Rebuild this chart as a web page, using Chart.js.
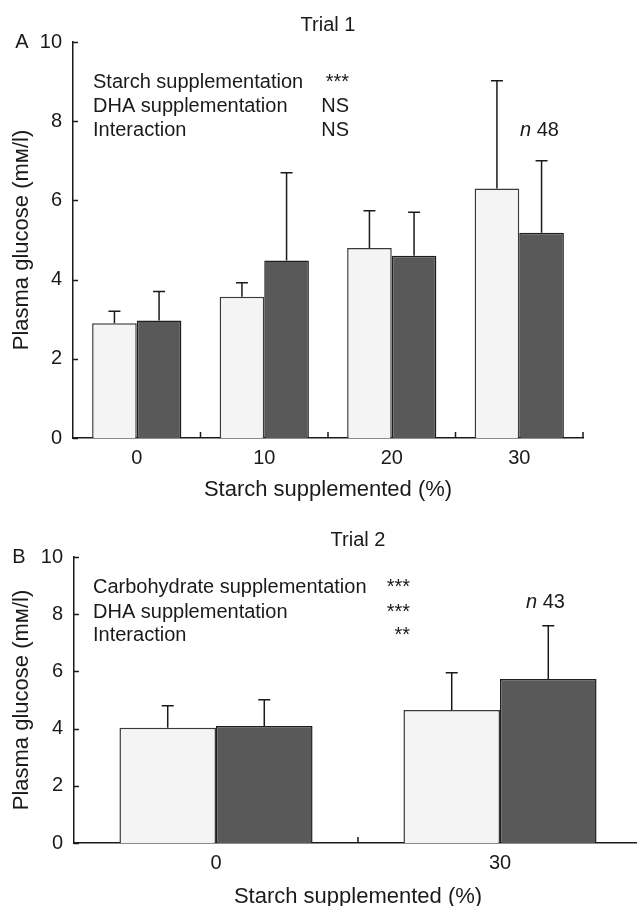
<!DOCTYPE html>
<html>
<head>
<meta charset="utf-8">
<script src="https://cdn.jsdelivr.net/npm/chart.js@4.4.0/dist/chart.umd.min.js"></script>
<style>
    html, body { margin: 0; padding: 0; background: #fff; width: 637px; height: 906px; overflow: hidden; }
    #panelA { position: absolute; left: 0; top: 0; }
    #panelB { position: absolute; left: 0; top: 515px; }
</style>
</head>
<body>
<canvas id="panelA" width="637" height="515"></canvas>
<canvas id="panelB" width="660" height="391"></canvas>
<script>
// trial 1 data (mean and SD, mM)
const trial1Labels = ['0', '10', '20', '30'];
const trial1Control = [2.9, 3.57, 4.8, 6.3];
const trial1ControlSd = [0.3, 0.35, 0.94, 2.72];
const trial1Dha = [2.97, 4.48, 4.6, 5.18];
const trial1DhaSd = [0.73, 2.22, 1.1, 1.82];

// trial 2 data
const trial2Labels = ['0', '30'];
const trial2Control = [4.03, 4.65];
const trial2ControlSd = [0.77, 1.3];
const trial2Dha = [4.09, 5.73];
const trial2DhaSd = [0.92, 1.87];

const yMin = 0;
const yMax = 10;
const yStep = 2;

const FONT = '"Liberation Sans", Arial, "DejaVu Sans", sans-serif';
const INK = '#1a1a1a';

Chart.defaults.font.family = FONT;
Chart.defaults.color = INK;

// SD whiskers, upward only
const errorBars = {
    id: 'errorBars',
    afterDatasetsDraw(chart, args, opts) {
        const ctx = chart.ctx;
        const yScale = chart.scales.y;
        chart.data.datasets.forEach(function (ds, di) {
            const meta = chart.getDatasetMeta(di);
            meta.data.forEach(function (bar, i) {
                const top = yScale.getPixelForValue(ds.data[i] + opts.sd[di][i]);
                ctx.save();
                ctx.strokeStyle = INK;
                ctx.lineWidth = 1.5;
                ctx.beginPath();
                ctx.moveTo(bar.x, bar.y);
                ctx.lineTo(bar.x, top);
                ctx.moveTo(bar.x - 6, top);
                ctx.lineTo(bar.x + 6, top);
                ctx.stroke();
                ctx.restore();
            });
        });
    }
};

// tick marks pointing into the plot
const innerTicks = {
    id: 'innerTicks',
    afterDraw(chart) {
        const ctx = chart.ctx;
        const x = chart.scales.x;
        const y = chart.scales.y;
        const area = chart.chartArea;
        ctx.save();
        ctx.strokeStyle = INK;
        ctx.lineWidth = 1.5;
        ctx.beginPath();
        y.ticks.forEach(function (t) {
            const py = Math.round(y.getPixelForValue(t.value)) + 0.5;
            ctx.moveTo(area.left, py);
            ctx.lineTo(area.left + 5, py);
        });
        const n = chart.data.labels.length;
        const w = (x.right - x.left) / n;
        for (let k = 1; k <= n; k++) {
            const px = x.left + k * w;
            ctx.moveTo(px, area.bottom);
            ctx.lineTo(px, area.bottom - 6);
        }
        ctx.stroke();
        ctx.restore();
    }
};

// titles, panel letter, statistics block
const panelText = {
    id: 'panelText',
    afterDraw(chart, args, o) {
        const ctx = chart.ctx;
        const area = chart.chartArea;
        const midX = (area.left + area.right) / 2;
        const midY = (area.top + area.bottom) / 2;
        ctx.save();
        ctx.fillStyle = INK;
        ctx.textBaseline = 'middle';

        ctx.font = '20px ' + FONT;
        ctx.textAlign = 'center';
        ctx.fillText(o.title, midX, 25);
        ctx.fillText(o.letter, o.letterX, area.top);

        ctx.font = '22px ' + FONT;
        ctx.fillText('Starch supplemented (%)', midX, o.xTitleY);
        ctx.save();
        ctx.translate(22, midY);
        ctx.rotate(-Math.PI / 2);
        ctx.fillText('Plasma glucose (mᴍ/l)', 0, 0);
        ctx.restore();

        ctx.font = '20px ' + FONT;
        o.rows.forEach(function (row, i) {
            ctx.textAlign = 'left';
            ctx.fillText(row[0], 93, o.rowY[i]);
            ctx.textAlign = 'right';
            ctx.fillText(row[1], o.sigRight, o.rowY[i]);
        });

        ctx.textAlign = 'left';
        ctx.font = 'italic 20px ' + FONT;
        ctx.fillText('n', o.nX, o.nY);
        const nw = ctx.measureText('n ').width;
        ctx.font = '20px ' + FONT;
        ctx.fillText(o.nValue, o.nX + nw, o.nY);
        ctx.restore();
    }
};

function makeChart(canvas, labels, control, dha, sd, catPct, yWidth, xHeight, padRight, text) {
    return new Chart(canvas, {
        type: 'bar',
        data: {
            labels: labels,
            datasets: [{
                data: control,
                backgroundColor: '#f4f4f4',
                borderColor: '#3a3a3a',
                borderWidth: 1.5,
                barPercentage: 1,
                categoryPercentage: catPct
            }, {
                data: dha,
                backgroundColor: '#595959',
                borderColor: '#1f1f1f',
                borderWidth: 1.5,
                barPercentage: 1,
                categoryPercentage: catPct
            }]
        },
        options: {
            responsive: false,
            animation: false,
            devicePixelRatio: 1,
            layout: { padding: { top: 42, left: 0, right: padRight, bottom: 0 } },
            plugins: {
                legend: { display: false },
                tooltip: { enabled: false },
                errorBars: { sd: sd },
                panelText: text
            },
            scales: {
                x: {
                    offset: true,
                    grid: { display: false, drawTicks: false },
                    border: { display: true, color: INK, width: 1.5 },
                    ticks: { font: { size: 20 }, padding: 8, color: INK },
                    afterFit: function (s) { s.height = xHeight; }
                },
                y: {
                    min: yMin,
                    max: yMax,
                    grid: { display: false, drawTicks: false },
                    border: { display: true, color: INK, width: 1.5 },
                    ticks: { stepSize: yStep, font: { size: 20 }, padding: 11, color: INK },
                    afterFit: function (s) { s.width = yWidth; }
                }
            }
        },
        plugins: [errorBars, innerTicks, panelText]
    });
}

makeChart(document.getElementById('panelA'), trial1Labels, trial1Control, trial1Dha,
    [trial1ControlSd, trial1DhaSd], 0.7, 73, 77, 54, {
        title: 'Trial 1',
        letter: 'A',
        letterX: 22,
        xTitleY: 490,
        rows: [['Starch supplementation', '***'], ['DHA supplementation', 'NS'], ['Interaction', 'NS']],
        rowY: [82, 106, 130],
        sigRight: 349,
        nX: 520,
        nY: 130,
        nValue: '48'
    });

makeChart(document.getElementById('panelB'), trial2Labels, trial2Control, trial2Dha,
    [trial2ControlSd, trial2DhaSd], 0.68, 74, 63, 18, {
        title: 'Trial 2',
        letter: 'B',
        letterX: 19,
        xTitleY: 382,
        rows: [['Carbohydrate supplementation', '***'], ['DHA supplementation', '***'], ['Interaction', '**']],
        rowY: [72, 97, 120],
        sigRight: 410,
        nX: 526,
        nY: 87,
        nValue: '43'
    });
</script>
</body>
</html>
